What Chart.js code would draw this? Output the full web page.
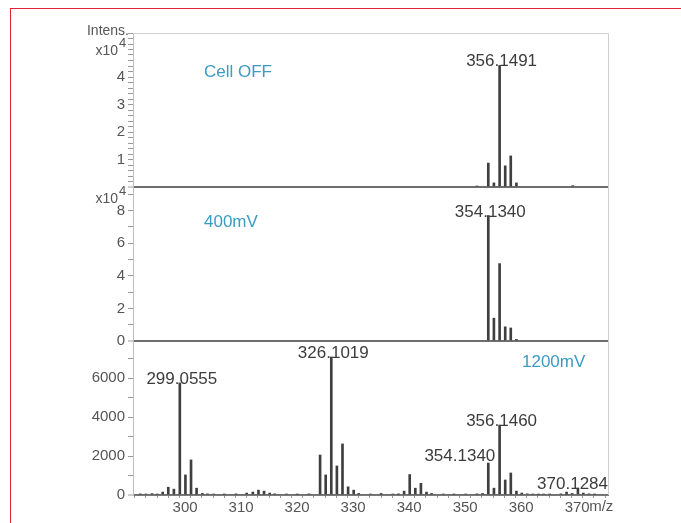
<!DOCTYPE html>
<html>
<head>
<meta charset="utf-8">
<script src="https://cdn.jsdelivr.net/npm/chart.js@4.4.1/dist/chart.umd.min.js"></script>
<style>
html, body { margin: 0; padding: 0; background: #fff; overflow: hidden; }
#frame { position: absolute; left: 10px; top: 8px; width: 720px; height: 560px; border: 1px solid #e2233c; }
#wrap { position: absolute; left: 0; top: 0; width: 681px; height: 523px; }
</style>
</head>
<body>
<div id="frame"></div>
<div id="wrap"><canvas id="myChart"></canvas></div>
<script>
// m/z en intensiteit per spectrum (Cell OFF en 400mV in eenheden van 10^4)
const mzOff = [352.1, 354.13, 355.13, 356.15, 357.15, 358.14, 359.15, 369.2];
const intOff = [0.03, 0.87, 0.15, 4.42, 0.77, 1.13, 0.15, 0.05];

const mz400 = [354.13, 355.13, 356.15, 357.15, 358.14, 359.15];
const int400 = [7.7, 1.4, 4.75, 0.87, 0.8, 0.1];

const mz1200 = [292.0, 293.0, 294.1, 295.0, 296.0, 297.0, 298.0, 299.06, 300.06, 301.06, 302.05, 303.1,
    304.0, 305.1, 307.0, 309.1, 311.0, 312.1, 313.1, 314.1, 315.1, 316.0, 318.1, 320.0, 322.1,
    324.1, 325.1, 326.10, 327.1, 328.1, 329.1, 330.1, 331.0, 333.1, 335.0, 337.1, 338.1,
    339.1, 340.1, 341.1, 342.1, 343.1, 344.0, 346.1, 348.0, 350.1, 352.1, 353.1,
    354.13, 355.14, 356.15, 357.15, 358.15, 359.15, 360.1, 361.1, 362.1, 363.1, 364.0, 365.1,
    367.1, 368.1, 369.1, 370.13, 371.1, 372.1, 373.1];
const int1200 = [60, 50, 70, 40, 150, 400, 300, 5750, 1030, 1800, 350, 80,
    60, 50, 40, 60, 100, 150, 250, 200, 100, 60, 50, 40, 60,
    2050, 1030, 7080, 1490, 2620, 420, 250, 80, 50, 80, 50, 60,
    200, 1050, 350, 600, 150, 80, 50, 40, 50, 60, 80,
    1640, 350, 3590, 770, 1130, 200, 100, 60, 50, 40, 50, 40,
    60, 150, 80, 350, 100, 60, 40];

// piek-labels
const peakTextOff = ['356.1491'];
const peakMzOff = [356.15];
const peakText400 = ['354.1340'];
const peakMz400 = [354.13];
const peakText1200 = ['299.0555', '326.1019', '354.1340', '356.1460', '370.1284'];
const peakMz1200 = [299.06, 326.10, 354.13, 356.15, 370.13];

// as-labels
const xTicks = [300, 310, 320, 330, 340, 350, 360, 370];
const yTicksOff = [1, 2, 3, 4];
const yTicks400 = [0, 2, 4, 6, 8];
const yTicks1200 = [0, 2000, 4000, 6000];

const panelTitles = ['Cell OFF', '400mV', '1200mV'];

const toPoints = (mz, ints) => mz.map((m, i) => ({ x: m, y: ints[i] }));
const peakHeight = (mz, ints, m) => ints[mz.indexOf(m)];

const isStep = (v, list) => list.some(t => Math.abs(v - t) < 1e-6);
const isMult = (v, m) => Math.abs(v / m - Math.round(v / m)) < 1e-6;

// stapjes van 'step', streepjes alleen op veelvouden van 'mark'
const yAxis = (max, step, mark, ticks) => ({
    type: 'linear',
    position: 'left',
    stack: 'spectra',
    stackWeight: 1,
    min: 0,
    max: max,
    border: { display: true, color: '#bdbdbd' },
    grid: {
        drawOnChartArea: true,
        color: c => (c.tick && Math.abs(c.tick.value) < 1e-9) ? '#6e6e6e' : 'rgba(0,0,0,0)',
        lineWidth: c => (c.tick && Math.abs(c.tick.value) < 1e-9) ? 2 : 1,
        tickColor: c => (c.tick && isMult(c.tick.value, mark)) ? '#9a9a9a' : 'rgba(0,0,0,0)',
        tickWidth: 1,
        tickLength: 5
    },
    ticks: {
        stepSize: step,
        includeBounds: false,
        autoSkip: false,
        padding: 3,
        color: '#555',
        font: { family: 'Liberation Sans, Arial', size: 15 },
        callback: v => isStep(v, ticks) ? String(Math.round(v)) : ''
    },
    afterFit: s => { s.width = 46; }
});

const annotate = {
    id: 'annotate',
    afterDraw(chart) {
        const { ctx, chartArea: a, scales } = chart;
        const x = scales.x;
        ctx.save();

        // kader boven en rechts
        ctx.strokeStyle = '#cfcfcf';
        ctx.lineWidth = 1;
        ctx.beginPath();
        ctx.moveTo(a.left, a.top + 0.5);
        ctx.lineTo(a.right + 0.5, a.top + 0.5);
        ctx.lineTo(a.right + 0.5, a.bottom);
        ctx.stroke();

        // piek-labels
        ctx.fillStyle = '#3c3c3c';
        ctx.font = '17px "Liberation Sans", Arial';
        ctx.textBaseline = 'alphabetic';
        const drawPeaks = (texts, mzs, mz, ints, yScale, right) => {
            texts.forEach((t, i) => {
                const px = x.getPixelForValue(mzs[i]);
                const py = yScale.getPixelForValue(peakHeight(mz, ints, mzs[i]));
                const w = ctx.measureText(t).width;
                let cx = px + 2;
                let by = py + 1;
                if (right && right[i]) { cx = px + 7 - w / 2; by = py - 2; }
                if (cx + w / 2 > a.right) cx = a.right - w / 2;
                ctx.textAlign = 'center';
                ctx.fillText(t, cx, by);
            });
        };
        drawPeaks(peakTextOff, peakMzOff, mzOff, intOff, scales.y1);
        drawPeaks(peakText400, peakMz400, mz400, int400, scales.y2);
        drawPeaks(peakText1200, peakMz1200, mz1200, int1200, scales.y3, [false, false, true, false, false]);

        // paneeltitels
        ctx.fillStyle = '#3b9bc3';
        ctx.textAlign = 'left';
        ctx.fillText(panelTitles[0], a.left + 71, scales.y1.top + 44);
        ctx.fillText(panelTitles[1], a.left + 71, scales.y2.top + 40);
        ctx.fillText(panelTitles[2], a.left + 389, scales.y3.top + 26);

        // as-titels
        ctx.fillStyle = '#555';
        ctx.font = '14px "Liberation Sans", Arial';
        ctx.textAlign = 'right';
        ctx.fillText('Intens.', a.left - 4, a.top + 2);
        const drawExp = (by) => {
            ctx.font = '14px "Liberation Sans", Arial';
            ctx.textAlign = 'right';
            ctx.fillText('x10', a.left - 15, by);
            ctx.font = '13px "Liberation Sans", Arial';
            ctx.textAlign = 'left';
            ctx.fillText('4', a.left - 14, by - 8);
        };
        drawExp(scales.y1.top + 22);
        drawExp(scales.y2.top + 16);

        ctx.font = '15px "Liberation Sans", Arial';
        ctx.textAlign = 'left';
        ctx.fillText('m/z', x.getPixelForValue(370) + 12, a.bottom + 16);
        ctx.restore();
    }
};

const renderChart = () => {
    const ctx = document.getElementById('myChart').getContext('2d');
    const bar = { backgroundColor: '#3f3f3f', barThickness: 2, grouped: false };

    new Chart(ctx, {
        type: 'bar',
        data: {
            datasets: [
                Object.assign({ label: panelTitles[2], data: toPoints(mz1200, int1200), yAxisID: 'y3' }, bar),
                Object.assign({ label: panelTitles[1], data: toPoints(mz400, int400), yAxisID: 'y2' }, bar),
                Object.assign({ label: panelTitles[0], data: toPoints(mzOff, intOff), yAxisID: 'y1' }, bar)
            ]
        },
        options: {
            responsive: true,
            maintainAspectRatio: false,
            animation: false,
            layout: { padding: { left: 87, top: 33, right: 73, bottom: 0 } },
            plugins: { legend: { display: false }, tooltip: { enabled: false } },
            scales: {
                x: {
                    type: 'linear',
                    min: 290.7,
                    max: 375.5,
                    offset: false,
                    border: { display: true, color: '#7a7a7a' },
                    grid: { drawOnChartArea: false, tickColor: '#9a9a9a', tickLength: 3 },
                    ticks: {
                        stepSize: 2,
                        includeBounds: false,
                        autoSkip: false,
                        maxRotation: 0,
                        padding: 1,
                        color: '#555',
                        font: { family: 'Liberation Sans, Arial', size: 15 },
                        callback: v => isStep(v, xTicks) ? String(Math.round(v)) : ''
                    },
                    afterFit: s => { s.height = 28; }
                },
                y3: yAxis(7900, 100, 1000, yTicks1200),
                y2: yAxis(9.45, 1, 1, yTicks400),
                y1: yAxis(5.6, 0.2, 0.2, yTicksOff)
            }
        },
        plugins: [annotate]
    });
};

document.addEventListener('DOMContentLoaded', renderChart);
</script>
</body>
</html>
